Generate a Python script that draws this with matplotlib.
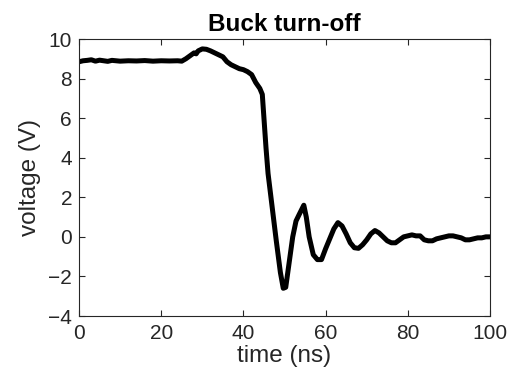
import matplotlib
matplotlib.use("Agg")
import matplotlib.pyplot as plt

time_ns = [0, 1, 2, 3, 4, 5, 6, 7, 8, 9, 10, 12, 14, 16, 18, 20, 22, 24, 25,
           26, 27, 28, 28.5, 29, 30, 31, 32, 33, 34, 35, 36, 37, 38, 39, 40,
           41, 42, 43, 44, 44.6, 45, 45.5, 46, 47, 48, 49, 49.7, 50.3, 51, 52,
           52.8, 53.5, 54.7, 55.3, 56, 57, 58, 59, 60, 61, 62, 63, 64, 65, 66,
           67, 68, 69, 70, 71, 72, 73, 74, 75, 76, 77, 78, 79, 80, 81, 82, 83,
           84, 85, 86, 87, 88, 89, 90, 91, 92, 93, 94, 95, 96, 97, 98, 99, 100]
voltage_v = [8.85, 8.9, 8.92, 8.95, 8.88, 8.93, 8.9, 8.87, 8.92, 8.9, 8.88, 8.9,
             8.89, 8.91, 8.88, 8.9, 8.89, 8.9, 8.88,
             9.0, 9.15, 9.3, 9.25, 9.4, 9.5, 9.48, 9.4, 9.3, 9.2, 9.1, 8.85,
             8.7, 8.6, 8.5, 8.45, 8.35, 8.2, 7.8, 7.5, 7.2, 6.0, 4.5, 3.2, 1.5,
             -0.2, -1.8, -2.6, -2.55, -1.5, 0.0, 0.8, 1.1, 1.6, 1.0, 0.0, -0.9,
             -1.15, -1.15, -0.6, -0.1, 0.4, 0.72, 0.55, 0.15, -0.3, -0.55, -0.58,
             -0.4, -0.15, 0.15, 0.32, 0.2, 0.0, -0.2, -0.3, -0.3, -0.15, 0.0,
             0.05, 0.1, 0.05, 0.05, -0.15, -0.2, -0.2, -0.1, -0.05, 0.0, 0.05,
             0.05, 0.0, -0.05, -0.15, -0.15, -0.1, -0.05, -0.05, 0.0, 0.0]

xticks = [0, 20, 40, 60, 80, 100]
yticks = [-4, -2, 0, 2, 4, 6, 8, 10]

plt.rcParams['font.family'] = ['Liberation Sans', 'DejaVu Sans']
axcol = '#262626'

fig = plt.figure(figsize=(5.11, 3.76), dpi=100)
ax = fig.add_axes([79/511, 1-316/376, (490-79)/511, (316-39)/376])
ax.plot(time_ns, voltage_v, color='black', lw=3.6, solid_joinstyle='round', solid_capstyle='round')
ax.set_xlim(0, 100)
ax.set_ylim(-4, 10)
ax.set_xticks(xticks)
ax.set_yticks(yticks)
ax.tick_params(direction='in', top=True, right=True, length=4, width=0.8,
               labelsize=15, colors=axcol)
ax.tick_params(axis='x', pad=6)
ax.tick_params(axis='y', pad=5)
for s in ax.spines.values():
    s.set_color(axcol)
    s.set_linewidth(0.8)
ax.set_xlabel('time (ns)', fontsize=17.5, color=axcol, labelpad=1)
ax.set_ylabel('voltage (V)', fontsize=17.5, color=axcol, labelpad=5)
ax.set_title('Buck turn-off', fontsize=17.5, fontweight='bold', color='black', pad=6)
fig.savefig('out.png', dpi=100)
